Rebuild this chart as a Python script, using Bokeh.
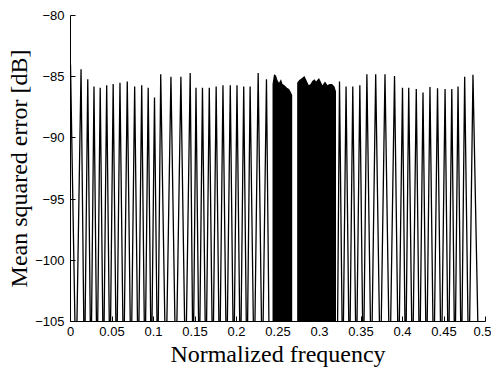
from bokeh.plotting import figure
from bokeh.models import Range1d, FixedTicker
from bokeh.embed import file_html
from bokeh.resources import INLINE

# ---- data ----
# lobe peaks (normalized frequency, dB)
peak_f = [0.0000, 0.0127, 0.0208, 0.0283, 0.0358, 0.0436, 0.0514, 0.0596,
          0.0684, 0.0773, 0.0858, 0.0936, 0.1012, 0.1087, 0.1210, 0.1330,
          0.1442, 0.1512, 0.1590, 0.1672, 0.1755, 0.1837, 0.1925, 0.2006,
          0.2087, 0.2164, 0.2261, 0.2361,
          0.3241, 0.3320, 0.3401, 0.3486, 0.3571, 0.3677, 0.3789, 0.3904,
          0.4000, 0.4075, 0.4166, 0.4247, 0.4331, 0.4422, 0.4513, 0.4594,
          0.4669, 0.4749, 0.4849]
peak_db = [-84.0, -84.4, -85.2, -85.8, -85.9, -85.7, -85.6, -85.5,
           -85.4, -85.8, -85.7, -85.9, -86.7, -84.8, -85.0, -85.0,
           -84.7, -85.9, -85.9, -85.9, -85.8, -85.7, -85.7, -85.7,
           -85.8, -85.8, -84.7, -85.2,
           -85.4, -85.8, -85.8, -85.7, -84.8, -84.8, -84.8, -84.95,
           -85.9, -85.9, -86.0, -86.3, -85.85, -85.95, -86.0, -86.0,
           -85.8, -85.0, -84.85]
# nulls between lobes (they fall below the bottom of the axis)
null_f = [0.0066, 0.0168, 0.0246, 0.0320, 0.0397, 0.0475, 0.0555, 0.0640,
          0.0729, 0.0816, 0.0897, 0.0974, 0.1050, 0.1149, 0.1270, 0.1386,
          0.1477, 0.1551, 0.1631, 0.1714, 0.1796, 0.1881, 0.1966, 0.2047,
          0.2126, 0.2213, 0.2311, 0.2398,
          0.3212, 0.3280, 0.3361, 0.3443, 0.3528, 0.3624, 0.3733, 0.3846,
          0.3952, 0.4037, 0.4120, 0.4206, 0.4289, 0.4376, 0.4467, 0.4553,
          0.4631, 0.4709, 0.4799, 0.4922]
null_db_value = -110.0

# dense oscillation regions (upper envelope)
block1_f = [0.2434, 0.2452, 0.2476, 0.2494, 0.2512, 0.2536, 0.2554, 0.2578,
            0.2608, 0.2633, 0.2651, 0.2671]
block1_db = [-85.6, -84.8, -84.9, -85.3, -85.5, -85.2, -85.6, -85.7,
             -85.9, -86.0, -86.2, -86.5]
block2_f = [0.2731, 0.2753, 0.2789, 0.2819, 0.2843, 0.2871, 0.2892, 0.2913,
            0.2940, 0.2958, 0.2994, 0.3036, 0.3066, 0.3096, 0.3120, 0.3151,
            0.3181, 0.3199]
block2_db = [-85.5, -85.3, -85.1, -84.95, -85.3, -85.7, -85.6, -85.35,
             -85.2, -85.4, -85.1, -85.7, -85.4, -85.7, -85.6, -85.6,
             -85.8, -86.2]

x_ticks = [0, 0.05, 0.1, 0.15, 0.2, 0.25, 0.3, 0.35, 0.4, 0.45, 0.5]
x_tick_labels = ["0", "0.05", "0.1", "0.15", "0.2", "0.25", "0.3", "0.35",
                 "0.4", "0.45", "0.5"]
y_ticks = [-105, -100, -95, -90, -85, -80]
y_tick_labels = ["\u2212105", "\u2212100", "\u221295", "\u221290", "\u221285", "\u221280"]

# ---- build the curve path ----
pts = [(f, d) for f, d in zip(peak_f, peak_db)] + [(f, null_db_value) for f in null_f]
pts.sort(key=lambda t: t[0])
xs = [t[0] for t in pts]
ys = [t[1] for t in pts]

p = figure(width=491, height=383, output_backend="svg", toolbar_location=None,
           x_range=Range1d(0, 0.5), y_range=Range1d(-105, -80),
           min_border_left=70, min_border_right=6, min_border_top=15,
           min_border_bottom=62)
p.outline_line_color = None
p.grid.visible = False
p.background_fill_color = "white"
p.border_fill_color = "white"

p.line(xs, ys, line_color="black", line_width=1.3)
p.varea(x=block1_f, y1=[null_db_value] * len(block1_f), y2=block1_db, fill_color="black")
p.varea(x=block2_f, y1=[null_db_value] * len(block2_f), y2=block2_db, fill_color="black")

for ax in (p.xaxis[0], p.yaxis[0]):
    ax.major_tick_in = 5
    ax.major_tick_out = 0
    ax.minor_tick_line_color = None
    ax.axis_line_color = "black"
    ax.major_tick_line_color = "black"
    ax.major_label_text_font = "Liberation Sans"
    ax.major_label_text_font_size = "13px"
    ax.major_label_text_color = "black"
    ax.axis_label_text_font = "Liberation Serif"
    ax.axis_label_text_font_size = "24px"
    ax.axis_label_text_font_style = "normal"
    ax.axis_label_text_color = "black"

p.xaxis.ticker = FixedTicker(ticks=x_ticks)
p.xaxis.major_label_overrides = {t: l for t, l in zip(x_ticks, x_tick_labels)}
p.yaxis.ticker = FixedTicker(ticks=y_ticks)
p.yaxis.major_label_overrides = {t: l for t, l in zip(y_ticks, y_tick_labels)}
p.xaxis.axis_label = "Normalized frequency"
p.yaxis.axis_label = "Mean squared error [dB]"
p.xaxis.major_label_standoff = 5
p.yaxis.major_label_standoff = 6
p.xaxis.axis_label_standoff = 2
p.yaxis.axis_label_standoff = 0

open("out.html", "w").write(file_html(p, INLINE))
